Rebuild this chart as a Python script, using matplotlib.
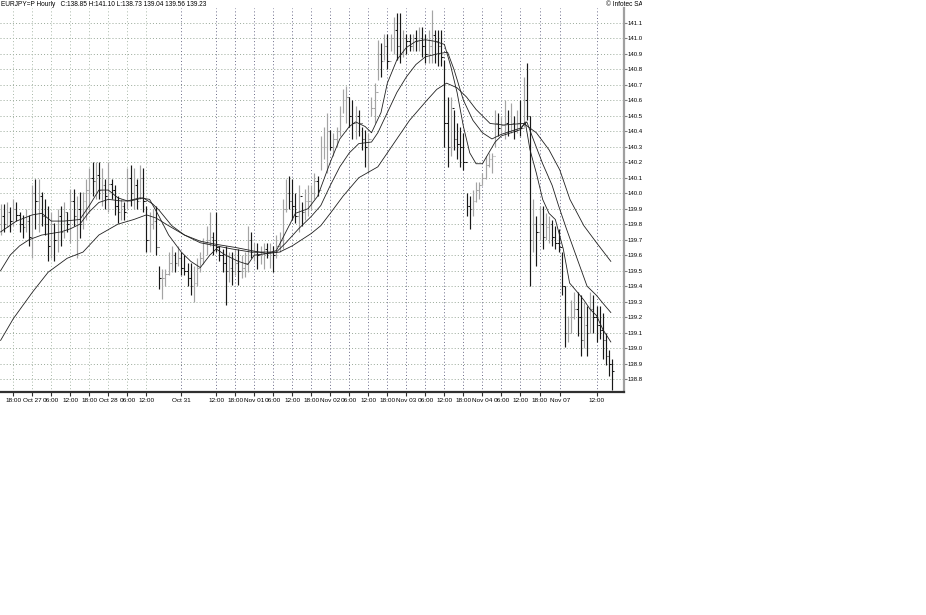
import numpy as np
import matplotlib
matplotlib.use("Agg")
import matplotlib.pyplot as plt
from matplotlib.patches import Rectangle

plt.rcParams['font.family'] = ['Liberation Sans', 'DejaVu Sans']

# hourly bars (bar index = hour slot on the chart)
highs = [
    139.93, 139.93, 139.94, 139.91, 139.96, 139.94, 139.88, 139.86, 139.90, 139.86,
    140.05, 140.09, 140.09, 140.01, 139.96, 139.92, 139.88, 139.81, 139.90, 139.92,
    139.94, 139.88, 140.03, 140.03, 139.98, 140.01, 140.01, 140.09, 140.16, 140.20,
    140.20, 140.20, 140.16, 140.09, 140.20, 140.09, 140.05, 139.98, 139.96, 139.94,
    140.16, 140.18, 140.16, 140.09, 140.18, 140.16, 139.92, 139.88, 139.90, 139.92,
    139.53, 139.51, 139.51, 139.62, 139.66, 139.62, 139.66, 139.62, 139.60, 139.55,
    139.55, 139.53, 139.58, 139.62, 139.71, 139.79, 139.88, 139.75, 139.88, 139.66,
    139.64, 139.66, 139.62, 139.62, 139.64, 139.64, 139.60, 139.62, 139.79, 139.75,
    139.68, 139.68, 139.66, 139.68, 139.68, 139.68, 139.66, 139.73, 139.75, 139.96,
    140.09, 140.11, 140.09, 140.00, 140.05, 139.94, 140.03, 140.05, 140.05, 140.13,
    140.11, 140.37, 140.43, 140.52, 140.41, 140.39, 140.43, 140.56, 140.67, 140.69,
    140.62, 140.60, 140.56, 140.54, 140.43, 140.41, 140.39, 140.62, 140.71, 140.99,
    140.97, 141.03, 141.03, 141.03, 141.14, 141.16, 141.16, 141.05, 141.03, 141.03,
    141.03, 141.05, 141.07, 141.07, 141.03, 141.05, 141.18, 141.05, 141.05, 141.05,
    140.86, 140.62, 140.62, 140.54, 140.45, 140.43, 140.39, 140.00, 139.98, 140.02,
    140.07, 140.07, 140.13, 140.24, 140.26, 140.26, 140.54, 140.52, 140.50, 140.60,
    140.54, 140.58, 140.50, 140.54, 140.60, 140.75, 140.84, 140.50, 139.96, 139.85,
    139.92, 139.92, 139.87, 139.85, 139.83, 139.79, 139.77, 139.62, 139.40, 139.21,
    139.31, 139.36, 139.36, 139.34, 139.30, 139.27, 139.36, 139.34, 139.27, 139.27,
    139.23, 139.10, 138.99, 138.93,
]
lows = [
    139.73, 139.75, 139.78, 139.75, 139.79, 139.82, 139.75, 139.71, 139.75, 139.66,
    139.58, 139.77, 139.75, 139.79, 139.73, 139.56, 139.58, 139.56, 139.62, 139.66,
    139.71, 139.75, 139.68, 139.79, 139.58, 139.71, 139.77, 139.83, 139.88, 139.98,
    139.96, 139.96, 139.92, 139.90, 139.88, 139.96, 139.86, 139.81, 139.83, 139.83,
    139.90, 139.92, 139.90, 139.90, 139.96, 139.88, 139.62, 139.62, 139.77, 139.60,
    139.38, 139.32, 139.40, 139.47, 139.49, 139.49, 139.53, 139.47, 139.47, 139.40,
    139.34, 139.30, 139.40, 139.49, 139.54, 139.60, 139.66, 139.60, 139.62, 139.56,
    139.49, 139.28, 139.43, 139.41, 139.47, 139.41, 139.45, 139.46, 139.49, 139.58,
    139.56, 139.51, 139.54, 139.51, 139.58, 139.52, 139.49, 139.58, 139.62, 139.64,
    139.88, 139.90, 139.83, 139.81, 139.75, 139.79, 139.83, 139.85, 139.89, 139.96,
    139.98, 140.15, 140.22, 140.13, 140.28, 140.24, 140.30, 140.37, 140.52, 140.45,
    140.43, 140.35, 140.35, 140.37, 140.28, 140.17, 140.13, 140.50, 140.45, 140.73,
    140.75, 140.86, 140.80, 140.92, 140.90, 140.86, 140.84, 140.88, 140.90, 140.92,
    140.92, 140.92, 140.92, 140.88, 140.84, 140.84, 140.84, 140.84, 140.82, 140.82,
    140.30, 140.17, 140.24, 140.28, 140.22, 140.17, 140.15, 139.85, 139.77, 139.85,
    139.94, 139.96, 140.05, 140.09, 140.17, 140.13, 140.30, 140.37, 140.39, 140.35,
    140.37, 140.39, 140.35, 140.39, 140.37, 140.43, 140.47, 139.40, 139.62, 139.53,
    139.70, 139.64, 139.70, 139.68, 139.66, 139.64, 139.62, 139.34, 139.01, 139.04,
    139.10, 139.19, 139.08, 138.95, 139.00, 138.95, 139.10, 139.10, 139.04, 139.06,
    138.93, 138.89, 138.82, 138.73,
]
closes = [
    139.85, 139.80, 139.88, 139.82, 139.90, 139.86, 139.80, 139.78, 139.82, 139.72,
    140.00, 139.95, 139.98, 139.85, 139.80, 139.66, 139.80, 139.70, 139.85, 139.75,
    139.88, 139.80, 139.95, 139.85, 139.90, 139.80, 139.95, 140.02, 140.10, 140.08,
    140.12, 140.02, 140.05, 139.98, 140.06, 140.02, 139.92, 139.88, 139.92, 139.88,
    140.10, 140.00, 140.05, 139.95, 140.10, 139.95, 139.70, 139.80, 139.82, 139.65,
    139.45, 139.45, 139.48, 139.55, 139.60, 139.55, 139.58, 139.52, 139.50, 139.45,
    139.40, 139.42, 139.52, 139.58, 139.68, 139.70, 139.72, 139.70, 139.65, 139.60,
    139.55, 139.50, 139.52, 139.50, 139.55, 139.50, 139.52, 139.55, 139.70, 139.62,
    139.62, 139.60, 139.62, 139.64, 139.62, 139.62, 139.60, 139.66, 139.70, 139.90,
    140.00, 139.95, 139.92, 139.85, 139.98, 139.88, 139.95, 139.95, 140.00, 140.08,
    140.02, 140.30, 140.30, 140.40, 140.30, 140.35, 140.40, 140.50, 140.60, 140.62,
    140.50, 140.45, 140.50, 140.45, 140.35, 140.30, 140.35, 140.55, 140.65, 140.90,
    140.85, 140.95, 140.85, 141.00, 141.05, 140.95, 140.90, 141.00, 140.98, 140.95,
    141.00, 140.98, 141.00, 140.95, 140.90, 140.95, 141.02, 140.98, 140.95, 140.88,
    140.45, 140.30, 140.55, 140.35, 140.32, 140.30, 140.20, 139.92, 139.90, 139.95,
    140.02, 140.05, 140.10, 140.18, 140.22, 140.24, 140.45, 140.42, 140.44, 140.45,
    140.40, 140.45, 140.40, 140.45, 140.42, 140.60, 140.50, 139.70, 139.80, 139.75,
    139.80, 139.72, 139.78, 139.80, 139.72, 139.68, 139.65, 139.40, 139.10, 139.10,
    139.20, 139.25, 139.20, 139.05, 139.15, 139.10, 139.25, 139.20, 139.15, 139.12,
    139.05, 138.95, 138.90, 138.85,
]
first_open = 139.80

# moving averages as (bar, value)
fast_x = [0, 5, 10, 13, 16, 20, 25, 28, 31, 34, 37, 40, 44, 47, 50, 53, 57, 60, 63,
          66, 68, 71, 75, 78, 80, 84, 87, 90, 93, 97, 100, 104, 107, 110, 112, 115,
          117, 120, 122, 125, 128, 131, 134, 137, 140, 142, 144, 146, 148, 150, 152,
          154, 156, 158, 161, 164, 165.5, 167, 169, 171, 173, 175, 177.5, 179.5, 182,
          184, 186, 188, 190, 192.5]
fast_y = [139.75, 139.82, 139.86, 139.87, 139.82, 139.82, 139.83, 139.92, 140.02, 140.02,
          139.97, 139.95, 139.97, 139.96, 139.85, 139.73, 139.62, 139.56, 139.52,
          139.60, 139.64, 139.60, 139.56, 139.54, 139.60, 139.61, 139.63, 139.75, 139.87,
          139.90, 139.98, 140.20, 140.35, 140.43, 140.46, 140.43,
          140.39, 140.52, 140.71, 140.86, 140.94, 140.98, 140.99, 140.98, 140.96, 140.82,
          140.65, 140.43, 140.26, 140.19, 140.19, 140.26, 140.33, 140.37, 140.39, 140.41,
          140.46, 140.28, 140.13, 139.96, 139.87, 139.83, 139.64, 139.42, 139.36,
          139.31, 139.25, 139.21, 139.12, 139.04]
mid_x = [0, 3, 6, 9, 13, 16, 19, 22, 25, 28, 31, 34, 38, 41, 45, 48, 50, 52, 54, 58,
         63, 68, 73, 79, 84, 87, 90, 94, 98, 101, 104, 107, 110, 113, 117, 119, 122,
         125, 128, 131, 134, 138, 141, 143, 146, 149, 152, 155, 158, 161, 164, 166,
         168, 171, 174, 176, 178.5, 182, 185, 188, 190, 192.5]
mid_y = [139.50, 139.60, 139.66, 139.70, 139.73, 139.74, 139.75, 139.77, 139.80, 139.88,
         139.94, 139.96, 139.95, 139.95, 139.97, 139.93, 139.89, 139.84, 139.79, 139.73,
         139.68, 139.66, 139.64, 139.62, 139.62, 139.62, 139.68, 139.77, 139.85, 139.92,
         140.05, 140.17, 140.26, 140.32, 140.33, 140.39, 140.52, 140.65, 140.75, 140.83,
         140.88, 140.90, 140.91, 140.80, 140.60, 140.47, 140.39, 140.35, 140.38, 140.40,
         140.42, 140.46, 140.35, 140.19, 140.05, 139.92, 139.77, 139.57, 139.40, 139.34,
         139.29, 139.23]
slow_x = [0, 4, 10, 15, 21, 26, 31, 37, 42, 46, 49, 53, 58, 63, 68, 74, 79, 84, 88,
          92, 95, 98, 101, 104, 108, 113, 119, 124, 129, 134.5, 137.6, 140.7, 144, 147,
          150, 154.4, 158.6, 165, 169, 173, 176.4, 179.6, 184, 188, 192.5]
slow_y = [139.05, 139.19, 139.36, 139.49, 139.58, 139.62, 139.73, 139.80, 139.83, 139.86,
          139.84, 139.79, 139.73, 139.69, 139.67, 139.65, 139.63, 139.61, 139.62, 139.66,
          139.70, 139.74, 139.79, 139.87, 139.98, 140.10, 140.17, 140.32, 140.47, 140.60,
          140.67, 140.71, 140.68, 140.62, 140.54, 140.45, 140.44, 140.45, 140.39, 140.28,
          140.15, 139.96, 139.79, 139.68, 139.56]

tick_pos = [4, 10, 16, 22, 28, 34, 40, 46, 57, 68, 74, 80, 86, 92, 98, 104, 110, 116,
            122, 128, 134, 140, 146, 152, 158, 164, 170, 176.5, 188]
tick_labels = ['18:00', 'Oct 27', '06:00', '12:00', '18:00', 'Oct 28', '06:00', '12:00',
               'Oct 31', '12:00', '18:00', 'Nov 01', '06:00', '12:00', '18:00', 'Nov 02',
               '06:00', '12:00', '18:00', 'Nov 03', '06:00', '12:00', '18:00', 'Nov 04',
               '06:00', '12:00', '18:00', 'Nov 07', '12:00']
price_ticks = np.round(np.arange(138.8, 141.15, 0.1), 2)

title = 'EURJPY=P Hourly   C:138.85 H:141.10 L:138.73 139.04 139.56 139.23'

W, H = 926, 615
fig = plt.figure(figsize=(W / 100, H / 100), dpi=100)
ax = fig.add_axes([0, (H - 392) / H, 624 / W, (392 - 8) / H])

# px per bar ~3.17, first bar at x=0.6 px
ax.set_xlim(-0.6 / 3.17, 623.4 / 3.17)
ax.set_ylim(138.717, 141.195)

# grid
for p in price_ticks:
    ax.axhline(p, color='#98a898', lw=0.7, ls=(0, (1, 2.2)), zorder=0)
for t in tick_pos:
    c = '#a8b8a8' if t < 50 else '#6a6a88'
    ax.axvline(t, color=c, lw=0.7, ls=(0, (1, 2.4)), zorder=0)

# OHLC bars
idx = np.arange(len(closes))
opens = np.r_[first_open, closes[:-1]]
cols = np.where(np.array(closes) >= opens, '#a4a4a4', '#181818')
ax.vlines(idx, lows, highs, colors=cols, lw=0.85, zorder=2)
ax.hlines(opens, idx - 0.45, idx, colors=cols, lw=0.75, zorder=2)
ax.hlines(closes, idx, idx + 0.45, colors=cols, lw=0.75, zorder=2)

# moving averages
for mx, my in [(slow_x, slow_y), (mid_x, mid_y), (fast_x, fast_y)]:
    ax.plot(mx, my, color='#202020', lw=0.6, zorder=3)

for s in ['top', 'left']:
    ax.spines[s].set_visible(False)
ax.spines['bottom'].set_color('#303030')
ax.spines['bottom'].set_linewidth(1.6)
ax.spines['right'].set_color('#a0a0a0')
ax.spines['right'].set_linewidth(1.6)

ax.yaxis.tick_right()
ax.set_yticks(price_ticks)
ax.set_yticklabels(['%.2f' % p for p in price_ticks])
ax.set_xticks(tick_pos)
ax.set_xticklabels(tick_labels)
ax.tick_params(axis='y', length=2, width=0.8, color='#808080', pad=0.5, labelsize=4.3)
ax.tick_params(axis='x', length=3, width=0.8, color='#303030', pad=1.5, labelsize=4.6)

fig.text(1 / W, 1 - 1 / H, title, fontsize=4.7, va='top', ha='left')
fig.text(606 / W, 1 - 1 / H, '\u00a9 Infotec SA', fontsize=4.7, va='top', ha='left')

# the chart image ends at x~641, everything right of it is blank
fig.patches.append(Rectangle((641.5 / W, 0), 1, 1, transform=fig.transFigure,
                             facecolor='white', edgecolor='none', zorder=10))
fig.patches.append(Rectangle((0, 0), 1, (H - 410) / H, transform=fig.transFigure,
                             facecolor='white', edgecolor='none', zorder=10))

fig.savefig('out.png', dpi=100)
